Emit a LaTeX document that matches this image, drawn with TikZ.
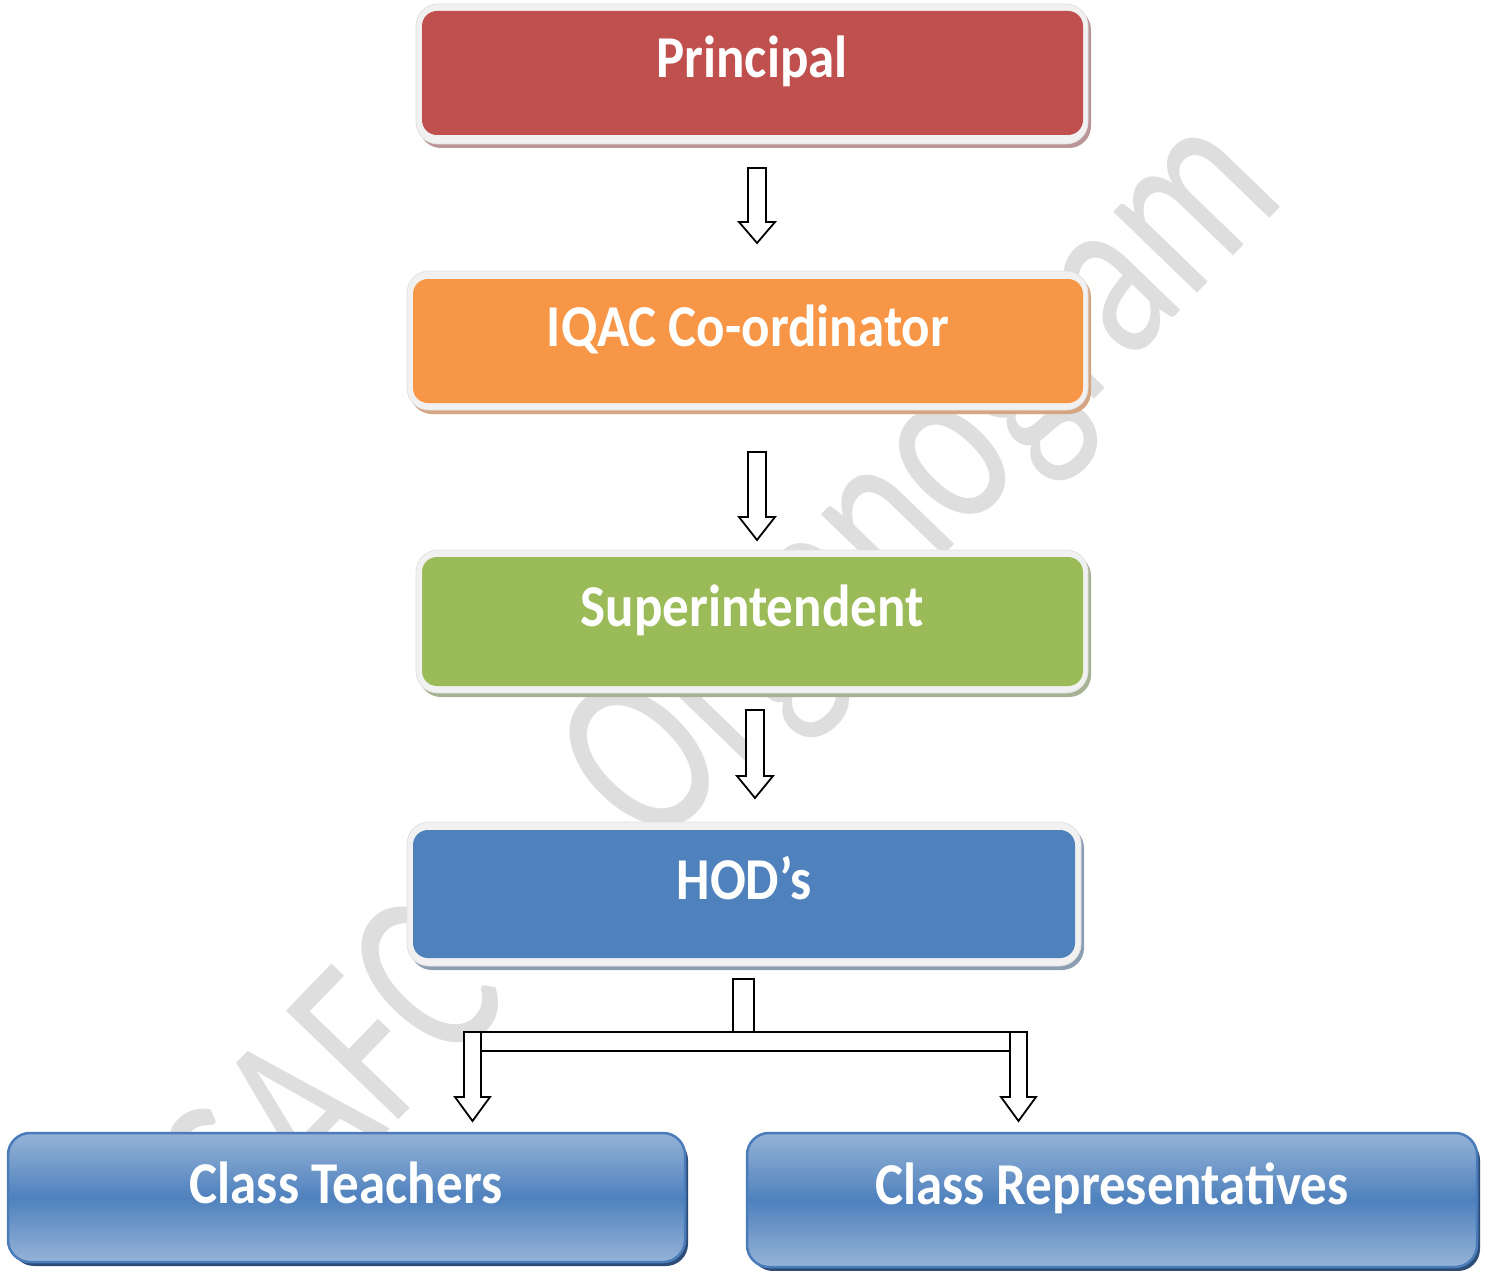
\documentclass[tikz,border=0pt]{standalone}
\usepackage{fontspec}
\setmainfont{Carlito}
\newfontfamily\wmfont{Carlito}
\definecolor{pred}{HTML}{C0504D}
\definecolor{porange}{HTML}{F79646}
\definecolor{pgreen}{HTML}{9BBB59}
\definecolor{pblue}{HTML}{4F81BD}
\definecolor{sred}{HTML}{B99595}
\definecolor{sorange}{HTML}{D5A582}
\definecolor{sgreen}{HTML}{A7B193}
\definecolor{sblue}{HTML}{8D9DB2}
\definecolor{framegray}{HTML}{F1F1F1}
\definecolor{frameedge}{HTML}{E2E2E2}
\definecolor{lightblue}{HTML}{95B3D7}
\definecolor{bedge}{HTML}{4A7CBA}
\definecolor{bshadow}{HTML}{2D4C78}
\definecolor{wmgray}{HTML}{DEDEDE}
\newcommand\blockdown[6]{%
  \draw[barr] (#1-#2,#4) -- (#1+#2,#4) -- (#1+#2,#5) -- (#1+#3,#5) -- (#1,#6) -- (#1-#3,#5) -- (#1-#2,#5) -- cycle;}
\begin{document}
\begin{tikzpicture}[x=1pt,y=-1pt,
  frame/.style={fill=framegray, draw=frameedge, line width=0.8, rounded corners=22},
  shadowbox/.style={rounded corners=22},
  inner/.style={rounded corners=15, inner sep=0, draw=none},
  lbl/.style={font=\bfseries\fontsize{53}{60}\selectfont, text=white, anchor=base, inner sep=0, yscale=1.12},
  barr/.style={draw=black, fill=white, line width=1.8, line join=miter},
  lowbox/.style={rounded corners=22, inner sep=0, draw=bedge, line width=2.5, top color=lightblue, bottom color=lightblue, middle color=pblue},
]
\useasboundingbox (0,0) rectangle (1489,1271);
\fill[white] (0,0) rectangle (1489,1271);
% watermark
\node[font=\wmfont\fontsize{212}{212}\selectfont, text=wmgray, rotate=46, xscale=0.85, yscale=1.15, inner sep=0] (wm) at (733,690) {SAFC\hspace{0.9em} Organogram};
% Principal
\fill[sred, shadowbox] (419,8) rectangle (1091,148);
\draw[frame] (416,4) rectangle (1088,144);
\node[inner, fill=pred, minimum width=661, minimum height=124] (p) at (752.5,73) {};
\node[lbl] (pt) at (752,78) {Principal};
% IQAC
\fill[sorange, shadowbox] (410,275) rectangle (1091,414);
\draw[frame] (407,271) rectangle (1088,410);
\node[inner, fill=porange, minimum width=670, minimum height=124] (q) at (748,341) {};
\node[lbl] (qt) at (748,346) {IQAC Co-ordinator};
% Superintendent
\fill[sgreen, shadowbox] (419,554) rectangle (1091,697);
\draw[frame] (416,550) rectangle (1088,693);
\node[inner, fill=pgreen, minimum width=661, minimum height=129] (s) at (752.5,621.5) {};
\node[lbl] (st) at (752,626) {Superintendent};
% HOD
\fill[sblue, shadowbox] (410,826) rectangle (1084,970);
\draw[frame] (407,822) rectangle (1081,966);
\node[inner, fill=pblue, minimum width=662, minimum height=128] (h) at (744,894) {};
\node[lbl] (ht) at (744,899) {HOD’s};
% bottom boxes
\fill[bshadow, shadowbox] (12,1138) rectangle (688,1266);
\node[lowbox, minimum width=677, minimum height=129] (ct) at (346.5,1197.5) {};
\node[lbl] (ctt) at (346,1203) {Class Teachers};
\fill[bshadow, shadowbox] (751,1138) rectangle (1480,1271);
\node[lowbox, minimum width=730, minimum height=134] (cr) at (1112,1200) {};
\node[lbl] (crt) at (1112,1204) {Class Representatives};
% arrows
\blockdown{757}{9}{18}{168}{222}{243}
\blockdown{757}{9}{18}{452}{517}{540}
\blockdown{755}{9}{18}{710}{776}{798}
\draw[barr] (464,1032) rectangle (1027,1051);
\blockdown{472.5}{8.5}{17.5}{1032}{1097}{1121}
\blockdown{1018.5}{8.5}{17.5}{1032}{1097}{1121}
\draw[barr] (733,979) rectangle (754,1032);
\end{tikzpicture}
\end{document}
